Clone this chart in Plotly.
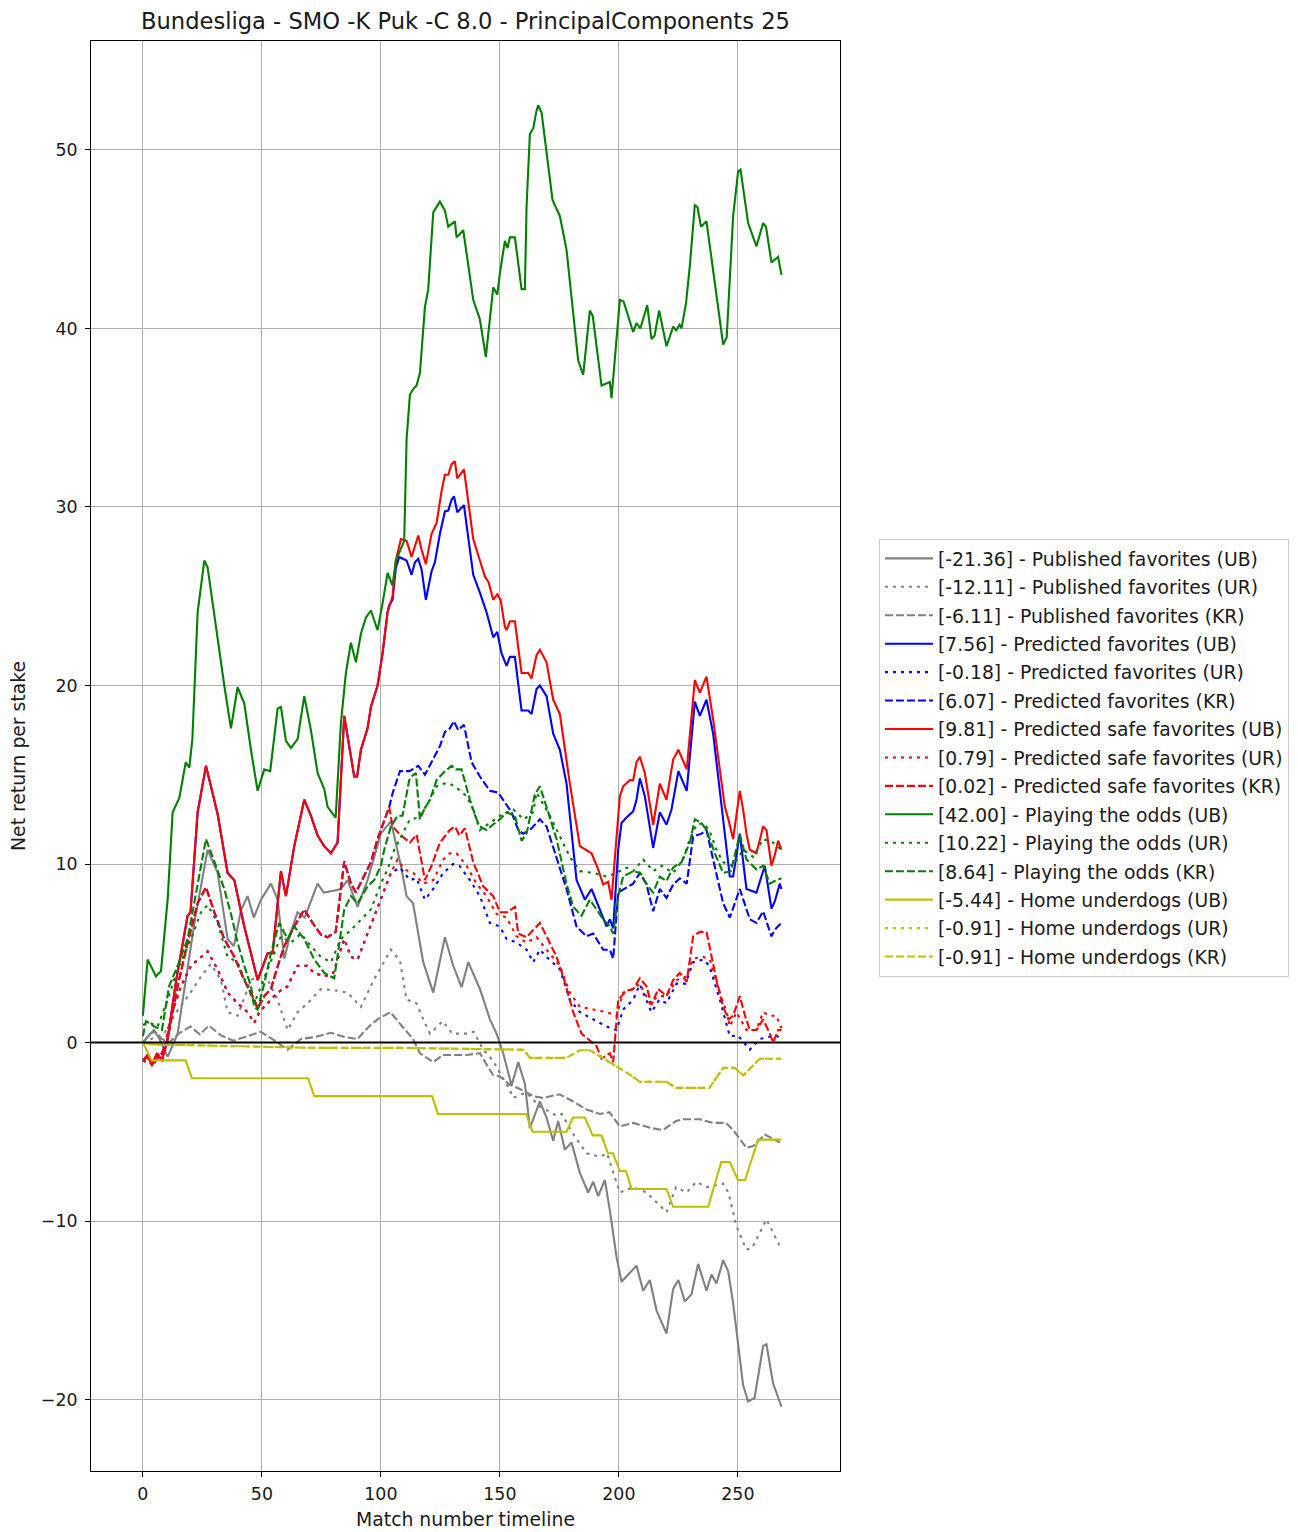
import plotly.graph_objects as go

# ---- Published favorites ----
pub_ub_x = [0, 2, 4.6, 7, 10.4, 14.6, 18, 22, 27.2, 31.4, 35.6, 38.2, 41.2, 44, 46.6, 49.6, 53.8, 56.6, 59.4, 62.2,
            65, 68, 73.4, 76, 80, 83.2, 86, 90.2, 94.4, 100, 104.2, 108.4, 110.8, 113.5, 117.8, 122, 126.9, 130.4,
            133.9, 136.7, 141.6, 145.8, 148.6, 151.4, 154.9, 157.7, 160.5, 162.6, 166.8, 169.6, 172.4, 174.5, 177.3,
            180.1, 183.6, 187.1, 189.2, 191.3, 194.1, 196.2, 199, 201.1, 204.6, 207.4, 210.2, 213, 215.8, 220, 222.8,
            225, 227.7, 230.5, 233.3, 236.8, 238.9, 241, 243.8, 245.9, 248, 252.2, 254.3, 257, 260.6, 262, 264.8, 268.3]
pub_ub_y = [0, 0.3, 0.7, 0.2, -0.8, 0.5, 3.5, 7.0, 10.8, 9.5, 5.8, 5.4, 7.4, 8.2, 7.0, 8.0, 8.9, 8.0, 4.7, 6.2,
            7.3, 7.0, 8.9, 8.4, 8.5, 8.6, 9.1, 7.6, 9.1, 11.7, 12.4, 9.9, 8.2, 7.8, 4.5, 2.8, 5.9, 4.3,
            3.1, 4.5, 3.0, 1.3, 0.5, -0.6, -2.4, -1.1, -2.3, -4.8, -3.3, -4.2, -5.5, -4.4, -6.0,
            -5.6, -7.3, -8.4, -7.8, -8.6, -7.7, -9.4, -12.0, -13.4, -12.9, -12.5, -13.9, -13.3, -15.0, -16.3, -13.8,
            -13.3, -14.5, -14.1, -12.4, -13.9, -13.0, -13.5, -12.2, -12.8, -14.6, -19.2, -20.1, -19.9, -17.0, -16.9, -19.1, -20.4]

pub_ur_x = [0, 5, 9, 13, 20, 24.4, 28.6, 32.8, 35.6, 39.8, 45.4, 51, 56.6, 60.8, 65, 69.2, 74.8, 81.8, 86, 91.6,
            97, 104.2, 108, 110.8, 115, 117.8, 120.6, 126, 130, 136, 139, 143, 147, 150, 154, 155.5, 161, 167,
            173.8, 176, 180.7, 186.4, 192, 195, 199, 200.4, 206, 211.6, 220, 224, 228.4, 232.6, 236.8, 243.8,
            246, 249.4, 253.6, 256, 262, 267.6]
pub_ur_y = [0, 0.3, 0.5, 1.5, 2.8, 3.7, 4.4, 3.5, 1.7, 1.5, 3.5, 3.9, 2.4, 0.7, 1.7, 2.2, 3.0, 2.9, 2.8, 2.0,
            3.5, 5.2, 4.6, 2.4, 2.2, 1.3, 0.5, 1.2, 0.5, 0.5, 0.6, -0.4, -1.0, -1.7, -2.6, -3.1, -2.8, -3.6,
            -4.1, -4.0, -5.1, -6.2, -6.4, -6.2, -7.9, -8.4, -8.1, -8.4, -9.5, -8.1, -8.4, -7.8, -8.1, -7.9,
            -8.4, -10.3, -11.6, -11.5, -9.9, -11.4]

pub_kr_x = [0, 3, 5, 8, 11, 15, 20, 24, 27.7, 32.8, 38, 44, 49.6, 56.6, 60.8, 66.4, 72, 79, 85, 90.2, 95, 98.6,
            104, 109, 113.5, 116.4, 122, 126, 136, 141.6, 147, 150, 154, 158.4, 164, 168, 175, 180.8, 186.4,
            192, 196, 200.4, 206, 214, 218.5, 224, 226.8, 234, 239.5, 245, 248, 253.6, 256.4, 261.3, 267.6]
pub_kr_y = [0, 0.5, 0.6, 0.2, 0, 0.5, 0.9, 0.45, 0.95, 0.4, 0.1, 0.35, 0.6, 0, -0.4, 0.2, 0.3, 0.55, 0.3, 0.2, 0.9, 1.3,
            1.7, 0.9, 0.2, -0.6, -1.1, -0.7, -0.7, -0.6, -1.8, -1.9, -2.35, -2.6, -3.0, -3.1, -2.9, -3.3, -3.75,
            -4.0, -3.9, -4.7, -4.5, -4.8, -4.9, -4.4, -4.3, -4.3, -4.5, -4.5, -4.9, -5.9, -5.8, -5.15, -5.6]

# ---- Predicted favorites ----
pred_ub_x = [0, 2, 4, 6, 8, 10.4, 14, 18.8, 20, 23, 26.5, 31.4, 35.6, 38.4, 42.6, 48.2, 52.4, 54.5, 58, 60.1,
             63.6, 67.8, 70.6, 73.4, 76.2, 79, 81.8, 84.6, 88.8, 90, 91.6, 94.4, 95.8, 98.6, 100.7, 102.8,
             103.5, 104.9, 106.3, 107.7, 110.8, 112.9, 114.3, 115.7, 117.1, 118.9, 121.3, 122.7, 124.8, 126.9,
             128.3, 129.7, 130.7, 132.1, 134.9, 138.8, 141.6, 144.4, 147.2, 148.9, 150.7, 152.8, 154.2, 156.3,
             159.1, 161.9, 163.3, 165.4, 166.8, 169.6, 172.4, 175.2, 178, 182.2, 185.7, 188.5, 192, 194.8, 196.2,
             197.6, 199.7, 201.1, 203.2, 206, 207.4, 208.8, 210.9, 214.4, 217.2, 220, 222.1, 225, 228.5, 231.9,
             234, 236.8, 239.6, 246.6, 248, 250.8, 253.6, 257.8, 261.3, 264.1, 265.5, 267.6, 268.3]
pred_ub_y = [-1.0, -0.8, -1.2, -0.6, -1.0, 0.2, 3.5, 7.1, 7.3, 12.9, 15.5, 12.8, 9.5, 9.1, 6.5, 3.5, 5.0, 5.0, 9.6, 8.2,
             11.0, 13.6, 12.7, 11.6, 11.0, 10.6, 11.2, 18.3, 14.9, 14.9, 16.4, 17.6, 18.8, 20.0, 21.8, 24.1,
             24.5, 24.8, 26.6, 27.2, 27.0, 26.2, 26.9, 27.1, 26.5, 24.8, 26.4, 26.9, 28.5, 29.75,
             29.8, 30.4, 30.6, 29.7, 30.1, 26.2, 25.2, 24.1, 22.7, 23.0, 21.8, 21.1, 21.6, 21.6,
             18.6, 18.6, 18.4, 19.8, 20.0, 19.4, 17.3, 16.4, 14.5, 9.1, 8.0, 8.6, 7.45, 6.5, 6.9,
             6.4, 10.8, 12.3, 12.6, 12.95, 13.6, 14.8, 13.8, 10.9, 12.9, 12.2, 13.05, 15.2, 14.1, 19.1,
             18.3, 19.2, 17.3, 9.3, 9.3, 11.7, 8.6, 8.4, 9.9, 7.5, 7.9, 8.9, 8.6]

pred_ur_x = [0, 3, 6, 8, 11.8, 16, 20.2, 24.4, 27.2, 31.4, 35.6, 39.8, 44, 46.8, 48.9, 52.4, 56.6, 60.8, 65, 69,
             72, 76.2, 80, 84.6, 87.4, 90.2, 94.4, 98.6, 101.4, 104.2, 108, 112.2, 115, 118.5, 122, 126.2, 130.4,
             133, 137.4, 141.6, 145.8, 150, 152.8, 157, 161.2, 164, 166.8, 169.6, 175.2, 179.4, 183.6, 189.2,
             194.8, 199, 201.8, 206, 208.8, 213.7, 217, 220, 224.2, 228, 231.2, 235.4, 238, 242.4, 246.6, 250,
             255, 259.2, 263.4, 266, 268.3]
pred_ur_y = [-1.0, -1.2, -0.8, -1.0, 1.5, 3.15, 4.3, 4.8, 5.1, 4.1, 2.8, 2.2, 1.7, 1.1, 1.7, 2.2, 2.8, 3.15, 4.3, 4.3,
             3.9, 3.7, 3.9, 5.8, 4.8, 4.65, 6.1, 7.6, 8.6, 9.5, 9.8, 9.1, 9.2, 8.0, 8.6, 9.5, 10.0,
             9.9, 9.1, 8.2, 6.7, 6.5, 5.8, 5.6, 5.2, 4.5, 5.2, 4.8, 4.1, 2.4, 1.7, 1.3,
             0.9, 0.7, 1.85, 2.4, 3.25, 1.7, 2.4, 2.2, 3.3, 3.3, 4.5, 4.65, 4.3, 2.4, 0.35, 0.4,
             -0.4, 0.2, 0.35, 0.4, 0.2]

pred_kr_x = [0, 2, 4, 6, 8, 10.4, 14.6, 18.8, 23, 26.5, 30, 34.2, 38.4, 42.6, 46.8, 48.2, 51, 53.8, 56, 59.4,
             63.6, 67.8, 71.3, 74.8, 77.6, 81, 84.6, 87.4, 89.5, 91.6, 95.8, 98.6, 101.4, 103.5, 105, 108, 112,
             115.7, 118.5, 122, 124.8, 126.9, 129, 130.7, 132.5, 134.9, 138.1, 141.6, 145.8, 149.3, 152.8, 154.9,
             157.7, 159.8, 162.6, 166.8, 169.6, 173.8, 178, 182.2, 186.4, 189.2, 193.4, 196.2, 197.6, 199.7,
             203.2, 206, 208.8, 211.6, 214.4, 217.2, 220, 222.8, 225.6, 228.5, 231.2, 234.7, 236.8, 241, 243.8,
             246.6, 250.8, 255, 257.8, 260.6, 264.1, 266, 268.3]
pred_kr_y = [-1.0, -0.7, -1.3, -0.9, -0.6, 0.2, 3.15, 5.6, 7.8, 8.7, 7.3, 5.8, 4.8, 3.5, 2.4, 1.9, 2.6, 3.0, 4.0, 5.4,
             6.5, 7.45, 6.7, 6.05, 5.9, 6.2, 10.15, 8.9, 8.4, 9.0, 10.1, 11.4, 12.5, 13.2, 14.0, 15.2, 15.2,
             15.5, 15.0, 15.9, 16.6, 17.4, 17.6, 18.0, 17.5, 17.8, 15.7, 14.9, 14.1, 14.0, 13.3, 12.9,
             11.9, 11.7, 11.9, 12.5, 12.1, 10.4, 8.6, 6.5, 5.95, 6.1, 5.2, 5.2, 4.7, 8.4,
             8.7, 8.9, 9.5, 8.85, 7.35, 8.6, 8.1, 8.85, 9.2, 8.9, 11.55, 11.7, 11.9, 9.5, 7.8,
             7.0, 8.6, 6.9, 6.7, 7.35, 5.95, 6.4, 6.7]

# ---- Predicted safe favorites ----
safe_ub_x = [0, 2, 4, 6, 8, 10.4, 14, 18.8, 20, 23, 26.5, 31.4, 35.6, 38.4, 42.6, 48.2, 52.4, 54.5, 58, 60.1,
             63.6, 67.8, 70.6, 73.4, 76.2, 79, 81.8, 84.6, 88.8, 90, 91.6, 94.4, 95.8, 98.6, 100.7, 102.8, 104.9,
             106.3, 108.4, 110.8, 112.9, 114.3, 115.7, 117.1, 118.9, 121.3, 123.4, 125.5, 126.9, 128.3, 129.7,
             131.1, 132.1, 134.9, 138.8, 141.6, 143.7, 145.2, 147.2, 148.9, 150.3, 152.1, 152.8, 154.2, 156.3,
             159.1, 161.9, 163.3, 165.4, 166.8, 169.6, 172.4, 175.2, 179.4, 183.6, 188.5, 191.3, 193.4, 195.5,
             196.9, 200.4, 201.8, 204.6, 206, 207.4, 208.8, 210.9, 214.4, 217.2, 220, 222.8, 225, 228.5, 231.9,
             234, 236.8, 239.6, 244.5, 246, 248, 250.8, 252.2, 253.6, 255, 257.8, 260.6, 262, 264.1, 265.5, 266.9, 268.3]
safe_ub_y = [-1.0, -0.8, -1.2, -0.6, -1.0, 0.2, 3.5, 7.1, 7.3, 12.9, 15.5, 12.8, 9.5, 9.1, 6.5, 3.5, 5.0, 5.0, 9.6, 8.2,
             11.0, 13.6, 12.7, 11.6, 11.0, 10.6, 11.2, 18.3, 14.9, 14.9, 16.4, 17.6, 18.8, 20.0, 21.8, 24.1, 25.0,
             27.0, 28.2, 28.1, 27.2, 27.8, 28.4, 27.6, 26.8, 28.5, 29.1, 30.9, 31.8, 31.8, 32.4,
             32.55, 31.6, 32.1, 28.2, 27.0, 26.1, 25.8, 24.8, 25.1, 24.8, 23.3, 23.1, 23.6, 23.6,
             20.7, 20.7, 20.4, 21.7, 22.0, 21.3, 19.2, 18.4, 14.5, 11.0, 10.6, 9.7, 8.85, 9.0,
             8.0, 13.8, 14.35, 14.7, 14.7, 15.7, 16.0, 15.1, 12.2, 14.5, 13.6, 15.85, 16.4, 15.3, 20.3,
             19.6, 20.5, 18.1, 13.2, 12.5, 11.4, 14.1, 13.05, 11.7, 10.8, 10.6, 12.1, 11.9, 9.9, 10.5, 11.3, 10.8]

safe_ur_x = [0, 3, 6, 8, 11.8, 16, 20.2, 24.4, 27.2, 31.4, 35.6, 39.8, 44, 46.8, 48.9, 52.4, 56.6, 60.8, 65, 69,
             72, 76.2, 80, 84.6, 87.4, 90.2, 94.4, 98.6, 101.4, 104.2, 107, 109.8, 113.6, 117.8, 122, 126.2, 129,
             131.8, 136, 140.2, 144.4, 148.6, 152.8, 157, 161.2, 165.4, 169.6, 175.2, 179.4, 183.6, 189.2, 194.8,
             199, 201.8, 206, 208.8, 213, 216.5, 220, 224.2, 228.5, 231.2, 235.4, 238.2, 242.4, 245.3, 246.6,
             249.4, 253.6, 257.8, 260.6, 263.4, 266.2, 268.3]
safe_ur_y = [-1.0, -1.2, -0.8, -1.0, 1.5, 3.15, 4.3, 4.8, 5.1, 4.1, 2.8, 2.2, 1.7, 1.1, 1.7, 2.2, 2.8, 3.15, 4.3, 4.3,
             3.9, 3.7, 3.9, 5.8, 4.8, 4.65, 6.1, 7.6, 8.6, 9.5, 10.25, 9.7, 9.5, 8.9, 9.1, 10.25, 10.6,
             10.6, 9.9, 8.9, 8.2, 7.2, 7.0, 5.95, 5.6, 5.9, 5.2, 4.3, 2.8, 2.0, 1.85, 1.7,
             1.5, 2.8, 3.0, 3.3, 2.2, 2.6, 2.6, 3.5, 3.7, 4.7, 4.8, 4.65, 2.8, 1.7, 0.9,
             1.7, 0.7, 0.7, 1.7, 1.5, 1.5, 0.8]

safe_kr_x = [0, 2, 4, 6, 8, 10.4, 14.6, 18.8, 23, 26.5, 30, 34.2, 38.4, 42.6, 46.8, 48.2, 51, 53.8, 56, 59.4,
             63.6, 67.8, 71.3, 74.8, 77.6, 81, 84.6, 87.4, 89.5, 91.6, 95.8, 98.6, 101.4, 103.5, 104.9, 108.4,
             112.2, 115, 118.5, 121.3, 124.8, 128.9, 131.1, 133, 135.3, 138.8, 143, 147.2, 150, 153, 156.3, 157.7,
             161.2, 166.8, 169.6, 173.8, 176.6, 180.8, 184.3, 187.1, 190.6, 192.7, 196.2, 197.6, 199.7, 203.2,
             206, 208.8, 211.6, 213.7, 216.5, 220, 222.8, 225.6, 228.5, 231.2, 234, 236.8, 241, 243.8, 246, 248,
             250.8, 253, 255, 257.8, 260.6, 263.4, 264.8, 266.9, 268.3]
safe_kr_y = [-1.0, -0.7, -1.3, -0.9, -0.6, 0.2, 3.15, 5.6, 7.8, 8.7, 7.3, 5.8, 4.8, 3.5, 2.4, 1.9, 2.6, 3.0, 4.0, 5.4,
             6.5, 7.45, 6.7, 6.05, 5.9, 6.2, 10.15, 8.9, 8.4, 9.0, 10.1, 11.4, 12.5, 13.2, 12.1, 11.6,
             11.2, 11.65, 9.1, 9.9, 11.2, 11.9, 12.1, 11.6, 12.0, 10.1, 8.75, 8.2, 7.3, 7.3, 7.6, 6.1,
             5.9, 6.7, 5.95, 4.8, 3.7, 1.7, 0.5, 0.2, -0.2, -0.9, -0.6, -1.1, 2.4, 2.9,
             3.0, 3.6, 3.15, 2.1, 3.0, 2.6, 3.5, 3.9, 3.4, 5.95, 6.2, 6.2, 3.5, 2.0, 1.3, 1.5,
             2.6, 1.5, 0.7, 0.7, 1.3, 0.5, 0.0, 0.7, 0.7]

# ---- Playing the odds ----
odds_ub_x = [0, 2, 5.5, 7.6, 10.4, 12.5, 15.3, 18, 19.5, 20.8, 23, 25.8, 27.2, 31.4, 34.2, 37, 39.8, 42.6, 45.4,
             48.2, 51, 53.5, 56.6, 58, 60.1, 62.2, 65, 67.8, 70.6, 73.4, 76.2, 77.6, 81, 83.2, 85.3, 87.4, 89.5,
             91.6, 93.7, 95.8, 98.6, 100.7, 102.8, 104.9, 106.3, 109.8, 110.8, 112.2, 113.6, 115, 116.4, 118.5,
             119.9, 122, 123.4, 124.8, 126.9, 128.3, 131.1, 131.8, 134.6, 138.8, 141.6, 144.1, 147.2, 148.9, 150,
             152.1, 153.2, 154.2, 156.3, 159.1, 160.5, 161.2, 162.6, 164, 165.4, 166.1, 167.5, 169.6, 172.1,
             175.2, 178, 182.9, 185, 187.8, 189, 192.7, 196.2, 196.9, 200.4, 202, 206, 207.4, 209, 211.9, 213.7,
             215, 216.9, 220, 222.8, 224, 225.5, 226.3, 228.2, 229.8, 231.9, 233, 234.5, 236.8, 243.8, 245.3,
             248, 250.1, 251.1, 254.3, 257.8, 260.6, 261.8, 264.1, 266.9, 268.3]
odds_ub_y = [1.5, 4.65, 3.7, 4.0, 8.0, 12.9, 13.7, 15.7, 15.4, 17.0, 24.1, 27.0, 26.6, 22.6, 20.0, 17.6, 19.9, 19.0, 16.4,
             14.1, 15.3, 15.2, 18.7, 18.8, 16.9, 16.5, 17.0, 19.4, 17.5, 15.1, 14.2, 13.2, 12.6, 17.9, 20.7, 22.4, 21.3,
             22.9, 23.8, 24.2, 23.1, 24.6, 26.3, 25.6, 27.0, 28.1, 33.8, 36.3, 36.6, 36.8, 37.5, 41.2,
             42.2, 46.5, 46.8, 47.1, 46.6, 45.7, 46.0, 45.1, 45.5, 41.6, 40.5, 38.4, 42.3, 41.9, 43.1,
             44.9, 44.5, 45.1, 45.1, 42.2, 42.2, 46.8, 50.9, 51.2, 52.2, 52.5, 52.1, 50.0, 47.2,
             46.3, 44.4, 38.2, 37.4, 41.0, 40.7, 36.8, 37.0, 36.1, 41.6, 41.5, 39.8, 40.3, 40.0, 41.3, 39.4,
             39.6, 41.0, 39.0, 40.1, 39.9, 40.2, 40.0, 41.4, 43.5, 46.9, 46.8, 45.7, 46.0, 39.1, 39.5,
             46.3, 48.8, 48.9, 45.9, 44.6, 45.9, 45.7, 43.7, 44.0, 43.0]

odds_ur_x = [0, 3, 6.2, 10.4, 14.6, 20.2, 24.4, 27.2, 31.4, 35.6, 39.8, 44, 46.8, 49.6, 53.8, 58, 62.2, 66.4, 70.6,
             74.8, 79, 83.2, 87.4, 91.6, 95.8, 100, 102.8, 105.6, 108.4, 112.2, 116, 120.6, 123.4, 126.2, 129,
             132.5, 136, 138.8, 141.6, 145.8, 150, 155.7, 160, 164, 165.4, 171, 175.2, 179.4, 183.6, 189.2, 194.8,
             199, 203.2, 206, 210.2, 214.4, 218, 222.8, 227, 229.8, 232.6, 235.4, 238, 241, 243.8, 248, 252.2,
             256.4, 260.6, 264.8, 268.3]
odds_ur_y = [1.0, 1.1, 0.9, 2.4, 4.1, 5.8, 7.3, 7.7, 6.7, 4.8, 4.5, 3.15, 2.2, 3.15, 4.5, 5.95, 5.6, 6.1, 5.4,
             4.8, 4.5, 5.8, 6.3, 6.9, 7.45, 8.9, 9.7, 10.8, 11.55, 12.5, 12.6, 13.6, 14.35, 14.5, 14.5,
             14.2, 13.8, 13.05, 11.9, 12.3, 12.7, 13.05, 12.5, 12.9, 14.0, 12.7, 11.55, 10.4, 9.6, 9.5, 9.3,
             9.5, 9.8, 9.6, 10.25, 9.6, 9.9, 9.5, 10.25, 11.4, 12.2, 12.3, 11.9, 10.8, 10.1, 9.9, 10.8,
             10.4, 11.4, 11.2, 10.8]

odds_kr_x = [0, 1.3, 4.8, 8, 11, 14.6, 18.8, 23, 26.5, 30, 34.2, 37, 39.8, 42.6, 45.4, 46.8, 48.2, 51, 53.8, 57.3,
             60.8, 63.6, 67.8, 72, 76.2, 80.4, 82.5, 84.6, 87.4, 90.2, 94.4, 97.2, 100, 101.4, 104.2, 107, 109.1,
             111.9, 112.9, 114.7, 116.4, 118, 120.6, 123.4, 126.2, 129.7, 131.5, 133.9, 137.4, 140.2, 141.6, 144.4,
             147, 150, 152.8, 156.3, 159.1, 161.2, 164.7, 166.8, 169.6, 173.8, 178, 180.8, 184.3, 187.8, 190.6,
             193.4, 196.2, 197.6, 199.7, 201.8, 206, 209, 212.3, 214.4, 217.2, 220, 222.8, 226.3, 229.8, 231.9,
             234.7, 236.8, 240.3, 243.8, 247, 250.8, 253.6, 257.8, 260.6, 263.4, 266.2, 268.3]
odds_kr_y = [0.35, 1.2, 0.9, 0.7, 3.15, 4.3, 5.8, 8.9, 11.4, 10.15, 8.6, 7.2, 5.6, 4.3, 3.15, 2.0, 1.85, 3.3, 5.0, 6.7,
             5.8, 6.5, 5.8, 4.65, 3.9, 3.6, 5.6, 7.45, 8.2, 7.8, 8.75, 9.1, 9.9, 10.8, 12.1, 12.7, 12.7,
             14.7, 14.9, 15.1, 12.5, 13.0, 13.6, 14.7, 15.1, 15.5, 15.3, 15.3, 13.6, 12.5, 12.1, 11.9,
             12.2, 12.5, 12.9, 12.7, 11.3, 11.7, 13.9, 14.35, 13.2, 11.4, 8.9, 7.6, 7.1, 8.0, 7.45,
             6.9, 6.5, 6.1, 8.2, 9.3, 9.6, 9.5, 8.75, 8.4, 9.3, 9.05, 9.8, 10.1, 11.2, 12.5,
             12.3, 11.9, 10.6, 9.5, 9.6, 11.65, 10.25, 9.7, 9.9, 8.9, 9.1, 9.2]

# ---- Home underdogs ----
home_ub_x = [0, 3.7, 18, 20.6, 69.4, 72, 121.5, 124, 161, 163.7, 178, 180.7, 185.7, 189, 192.7, 195.4, 197.5,
             200.4, 203, 205.3, 220, 222.8, 237.5, 243, 246.6, 250, 253, 258.5, 268.3]
home_ub_y = [0, -1, -1, -2, -2, -3, -3, -4, -4, -5, -5, -4.2, -4.2, -5.2, -5.2, -6.2, -6.2,
             -7.2, -7.2, -8.2, -8.2, -9.2, -9.2, -6.7, -6.7, -7.7, -7.7, -5.44, -5.44]

home_ur_x = [0, 3, 20, 40, 72, 108, 150, 160, 162.6, 178, 183.6, 187.8, 192, 199, 204.6, 208.8, 220, 224, 238,
             243.8, 248.7, 252.2, 259.2, 268.3]
home_ur_y = [0, -0.1, -0.15, -0.2, -0.3, -0.3, -0.4, -0.4, -0.86, -0.86, -0.43, -0.43, -0.77, -1.33, -1.8, -2.2,
             -2.2, -2.54, -2.54, -1.42, -1.42, -1.85, -0.91, -0.91]

home_kr_x = home_ur_x
home_kr_y = home_ur_y

# Legend labels
labels = [
    "[-21.36] - Published favorites (UB)", "[-12.11] - Published favorites (UR)", "[-6.11] - Published favorites (KR)",
    "[7.56] - Predicted favorites (UB)", "[-0.18] - Predicted favorites (UR)", "[6.07] - Predicted favorites (KR)",
    "[9.81] - Predicted safe favorites (UB)", "[0.79] - Predicted safe favorites (UR)", "[0.02] - Predicted safe favorites (KR)",
    "[42.00] - Playing the odds (UB)", "[10.22] - Playing the odds (UR)", "[8.64] - Playing the odds (KR)",
    "[-5.44] - Home underdogs (UB)", "[-0.91] - Home underdogs (UR)", "[-0.91] - Home underdogs (KR)",
]

xs = [pub_ub_x, pub_ur_x, pub_kr_x, pred_ub_x, pred_ur_x, pred_kr_x, safe_ub_x, safe_ur_x, safe_kr_x,
      odds_ub_x, odds_ur_x, odds_kr_x, home_ub_x, home_ur_x, home_kr_x]
ys = [pub_ub_y, pub_ur_y, pub_kr_y, pred_ub_y, pred_ur_y, pred_kr_y, safe_ub_y, safe_ur_y, safe_kr_y,
      odds_ub_y, odds_ur_y, odds_kr_y, home_ub_y, home_ur_y, home_kr_y]

colors = ["#808080", "#0000ff", "#ff0000", "#008000", "#bfbf00"]
dashes = ["solid", "3px,5px", "8px,3px"]

fig = go.Figure()
for i, (x, y, name) in enumerate(zip(xs, ys, labels)):
    fig.add_trace(go.Scatter(
        x=x, y=y, mode="lines", name=name, legendgroup=f"g{i:02d}",
        line=dict(color=colors[i // 3], width=2.1, dash=dashes[i % 3]),
    ))

FONT = "DejaVu Sans, Liberation Sans, sans-serif"
fig.add_shape(type="line", xref="paper", x0=0, x1=1, yref="y", y0=0, y1=0,
              line=dict(color="black", width=2), layer="above")

fig.update_layout(
    width=1298, height=1532,
    margin=dict(l=91, r=458, t=41, b=61, autoexpand=False),
    paper_bgcolor="white", plot_bgcolor="white",
    font=dict(family=FONT, size=18.8, color="black"),
    title=dict(text="Bundesliga - SMO -K Puk -C 8.0 - PrincipalComponents 25",
               xref="paper", x=0.5, xanchor="center",
               yref="container", y=1 - 21 / 1532, yanchor="middle",
               font=dict(family=FONT, size=22.6, color="#1a1a1a")),
    showlegend=True,
    legend=dict(x=1.052, xanchor="left", y=0.652, yanchor="top",
                bgcolor="white", bordercolor="#cccccc", borderwidth=1,
                font=dict(family=FONT, size=18.8, color="#1a1a1a"),
                tracegroupgap=1, itemwidth=48, traceorder="grouped"),
)
fig.update_xaxes(
    range=[-21.8, 292.9], tickmode="array", tickvals=[0, 50, 100, 150, 200, 250],
    showgrid=True, gridcolor="#b0b0b0", gridwidth=1, zeroline=False, automargin=False,
    showline=True, linecolor="black", linewidth=1, mirror=True,
    ticks="outside", ticklen=5, tickcolor="black", tickfont=dict(size=17.4, color="#1a1a1a"),
    ticklabelstandoff=2,
    title=dict(text="Match number timeline", font=dict(size=18.8, color="#1a1a1a"), standoff=9),
)
fig.update_yaxes(
    range=[-24.0, 56.1], tickmode="array", tickvals=[-20, -10, 0, 10, 20, 30, 40, 50],
    showgrid=True, gridcolor="#b0b0b0", gridwidth=1, zeroline=False, automargin=False,
    showline=True, linecolor="black", linewidth=1, mirror=True,
    ticks="outside", ticklen=5, tickcolor="black", tickfont=dict(size=17.4, color="#1a1a1a"),
    ticklabelstandoff=4,
    title=dict(text="Net return per stake", font=dict(size=18.8, color="#1a1a1a"), standoff=10),
)

fig.write_html("out.html")
